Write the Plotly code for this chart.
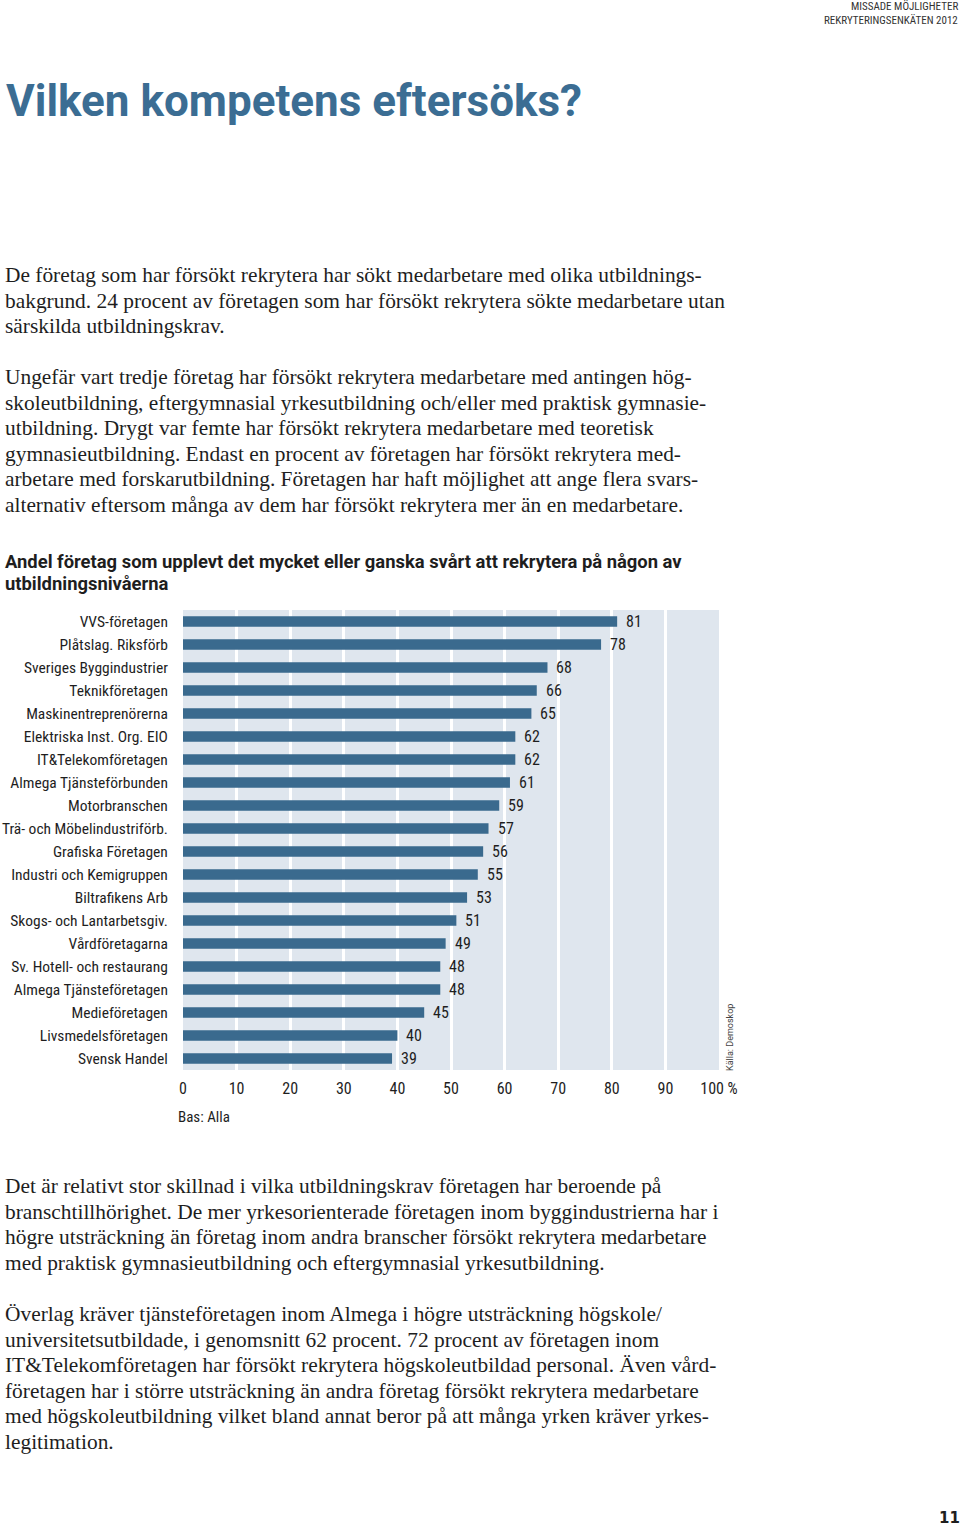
import plotly.graph_objects as go

# ---- data ----
categories = [
    "VVS-företagen", "Plåtslag. Riksförb", "Sveriges Byggindustrier", "Teknikföretagen",
    "Maskinentreprenörerna", "Elektriska Inst. Org. EIO", "IT&Telekomföretagen",
    "Almega Tjänsteförbunden", "Motorbranschen", "Trä- och Möbelindustriförb.",
    "Grafiska Företagen", "Industri och Kemigruppen", "Biltrafikens Arb",
    "Skogs- och Lantarbetsgiv.", "Vårdföretagarna", "Sv. Hotell- och restaurang",
    "Almega Tjänsteföretagen", "Medieföretagen", "Livsmedelsföretagen", "Svensk Handel",
]
values = [81, 78, 68, 66, 65, 62, 62, 61, 59, 57, 56, 55, 53, 51, 49, 48, 48, 45, 40, 39]
tick_vals = [0, 10, 20, 30, 40, 50, 60, 70, 80, 90, 100]
tick_text = ["0", "10", "20", "30", "40", "50", "60", "70", "80", "90", "100 %"]

header_lines = ["MISSADE MÖJLIGHETER", "REKRYTERINGSENKÄTEN 2012"]
title_text = "Vilken kompetens eftersöks?"
para1 = [
    "De företag som har försökt rekrytera har sökt medarbetare med olika utbildnings-",
    "bakgrund. 24 procent av företagen som har försökt rekrytera sökte medarbetare utan",
    "särskilda utbildningskrav.",
]
para2 = [
    "Ungefär vart tredje företag har försökt rekrytera medarbetare med antingen hög-",
    "skoleutbildning, eftergymnasial yrkesutbildning och/eller med praktisk gymnasie-",
    "utbildning. Drygt var femte har försökt rekrytera medarbetare med teoretisk",
    "gymnasieutbildning. Endast en procent av företagen har försökt rekrytera med-",
    "arbetare med forskarutbildning. Företagen har haft möjlighet att ange flera svars-",
    "alternativ eftersom många av dem har försökt rekrytera mer än en medarbetare.",
]
chart_title = [
    "Andel företag som upplevt det mycket eller ganska svårt att rekrytera på någon av",
    "utbildningsnivåerna",
]
para3 = [
    "Det är relativt stor skillnad i vilka utbildningskrav företagen har beroende på",
    "branschtillhörighet. De mer yrkesorienterade företagen inom byggindustrierna har i",
    "högre utsträckning än företag inom andra branscher försökt rekrytera medarbetare",
    "med praktisk gymnasieutbildning och eftergymnasial yrkesutbildning.",
]
para4 = [
    "Överlag kräver tjänsteföretagen inom Almega i högre utsträckning högskole/",
    "universitetsutbildade, i genomsnitt 62 procent. 72 procent av företagen inom",
    "IT&Telekomföretagen har försökt rekrytera högskoleutbildad personal. Även vård-",
    "företagen har i större utsträckning än andra företag försökt rekrytera medarbetare",
    "med högskoleutbildning vilket bland annat beror på att många yrken kräver yrkes-",
    "legitimation.",
]
base_text = "Bas: Alla"
source_text = "Källa: Demoskop"
page_no = "11"

# ---- styles ----
W, H = 960, 1526
PX0, PX1, PY0, PY1 = 183, 719, 610, 1070  # plot area in pixels
BAR = "#3a6a8e"
BG = "#dfe6ee"
BLUE = "#3b6d93"
NARROW = "Liberation Sans Narrow, Roboto Condensed, DejaVu Sans Condensed, sans-serif"
ROBOTO = "Roboto, DejaVu Sans, sans-serif"
SERIF = "Liberation Serif, DejaVu Serif, serif"
TXT = "#1e1e1e"


def px(x):
    return (x - PX0) / (PX1 - PX0)


def py(y):
    return (PY1 - y) / (PY1 - PY0)


fig = go.Figure()
fig.add_trace(go.Bar(
    x=values, y=categories, orientation="h",
    marker=dict(color=BAR, line=dict(width=0)),
    width=0.46, hoverinfo="x+y",
))

ann = []
for c, v in zip(categories, values):
    ann.append(dict(x=v, y=c, xref="x", yref="y", text=str(v), showarrow=False,
                    xanchor="left", yanchor="middle", xshift=7,
                    font=dict(family=NARROW, size=16, color=TXT)))


def text_line(t, x, y, size, family, color, xanchor="left", weight="normal", **kw):
    ann.append(dict(x=px(x), y=py(y), xref="paper", yref="paper", text=t, showarrow=False,
                    xanchor=xanchor, yanchor="middle", borderpad=0,
                    font=dict(family=family, size=size, color=color, weight=weight), **kw))


text_line(header_lines[0], 959, 6, 11, NARROW, "#333333", xanchor="right")
text_line(header_lines[1], 959, 20, 11, NARROW, "#333333", xanchor="right")
text_line(title_text, 5, 101, 44, ROBOTO, BLUE, weight="bold")

LS = 25.6
for i, t in enumerate(para1):
    text_line(t, 4, 275 + i * LS, 21.4, SERIF, TXT)
for i, t in enumerate(para2):
    text_line(t, 4, 377 + i * LS, 21.4, SERIF, TXT)
for i, t in enumerate(chart_title):
    text_line(t, 4, 561 + i * 22, 18.4, ROBOTO, TXT, weight="bold")
for i, t in enumerate(para3):
    text_line(t, 4, 1186 + i * LS, 21.4, SERIF, TXT)
for i, t in enumerate(para4):
    text_line(t, 4, 1314 + i * LS, 21.4, SERIF, TXT)

text_line(base_text, 177, 1117, 15, NARROW, TXT)
text_line(source_text, 730, 1038, 9, ROBOTO, "#444444", xanchor="center", textangle=-90)
text_line(page_no, 961, 1518, 15, "DejaVu Sans, sans-serif", TXT, xanchor="right", weight="bold")

fig.update_layout(
    template="none",
    width=W, height=H,
    margin=dict(l=PX0, r=W - PX1, t=PY0, b=H - PY1, pad=0, autoexpand=False),
    paper_bgcolor="white", plot_bgcolor=BG,
    showlegend=False, annotations=ann,
    bargap=0.5,
)
fig.update_xaxes(
    automargin=False,
    range=[0, 100], tickvals=tick_vals, ticktext=tick_text,
    showgrid=True, gridcolor="white", gridwidth=2.5, zeroline=False,
    showline=False, ticks="outside", ticklen=4, tickcolor="rgba(0,0,0,0)",
    tickfont=dict(family=NARROW, size=16, color=TXT), fixedrange=True,
)
fig.update_yaxes(
    automargin=False,
    range=[len(categories) - 0.5, -0.5], showgrid=False, zeroline=False, showline=False,
    ticks="outside", ticklen=11, tickcolor="rgba(0,0,0,0)",
    tickfont=dict(family=NARROW, size=15.5, color=TXT), fixedrange=True,
)

fig.write_html("out.html", config={"displayModeBar": False},
               post_script="document.body.style.margin='0';document.body.style.overflow='hidden';")
